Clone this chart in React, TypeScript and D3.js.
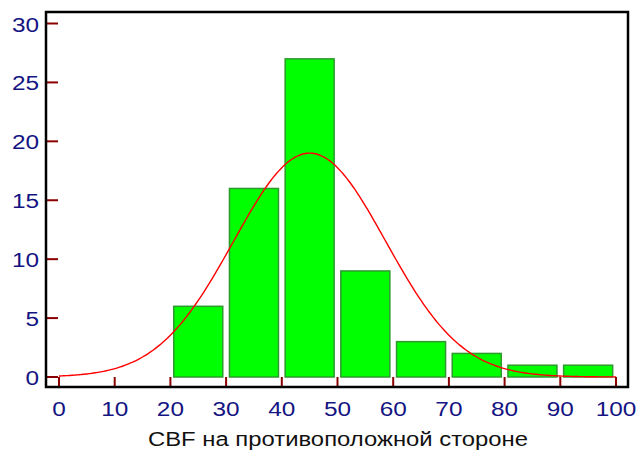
import React from "react";
import * as d3 from "d3";

const binStarts = [20, 30, 40, 50, 60, 70, 80, 90];
const binCounts = [6, 16, 27, 9, 3, 2, 1, 1];
const binWidth = 10;
const xTicks = [0, 10, 20, 30, 40, 50, 60, 70, 80, 90, 100];
const yTicks = [0, 5, 10, 15, 20, 25, 30];
const fitMean = 45;
const fitSd = 13.65;
const xTitle = "CBF на противоположной стороне";

const W = 640;
const H = 453;
const frame = { left: 46, right: 628, top: 12, bottom: 387 };

export default function App() {
  const x = d3.scaleLinear().domain([0, 100]).range([59, 616]);
  const y = d3.scaleLinear().domain([0, 30]).range([377, 23.5]);
  const total = d3.sum(binCounts);
  const curveX = d3.range(0, 100.01, 0.5);
  const curvePts: [number, number][] = curveX.map((v) => [
    v,
    (total * binWidth) / (fitSd * Math.sqrt(2 * Math.PI)) *
      Math.exp(-((v - fitMean) ** 2) / (2 * fitSd * fitSd)),
  ]);
  const line = d3
    .line<[number, number]>()
    .x((d) => x(d[0]))
    .y((d) => y(d[1]))
    .curve(d3.curveMonotoneX);
  const inset = 0.6;
  const font = "'Liberation Sans', Arial, sans-serif";
  const tickColor = "#8b0000";
  const labelColor = "#141482";
  const sx = 1.25;

  return (
    <svg
      width={W}
      height={H}
      style={{ position: "absolute", left: 0, top: 0, background: "#fff" }}
    >
      {binStarts.map((s, i) => (
        <rect
          key={s}
          x={x(s + inset)}
          y={y(binCounts[i])}
          width={x(s + binWidth - inset) - x(s + inset)}
          height={y(0) - y(binCounts[i])}
          fill="#00ff00"
          stroke="#2e9a2e"
          strokeWidth={1.5}
        />
      ))}
      <path d={line(curvePts) || ""} fill="none" stroke="#ff0000" strokeWidth={1.4} />
      {yTicks.map((t) => (
        <g key={"y" + t}>
          <line
            x1={frame.left}
            x2={frame.left + 12}
            y1={y(t)}
            y2={y(t)}
            stroke={tickColor}
            strokeWidth={2}
          />
          <text
            transform={`translate(39,${y(t) + 8}) scale(${sx},1)`}
            textAnchor="end"
            fontFamily={font}
            fontSize={19.5}
            fill={labelColor}
          >
            {t}
          </text>
        </g>
      ))}
      {xTicks.map((t) => (
        <g key={"x" + t}>
          <line
            x1={x(t)}
            x2={x(t)}
            y1={frame.bottom}
            y2={frame.bottom - 10}
            stroke={tickColor}
            strokeWidth={2}
          />
          <text
            transform={`translate(${x(t)},416) scale(${sx},1)`}
            textAnchor="middle"
            fontFamily={font}
            fontSize={19.5}
            fill={labelColor}
          >
            {t}
          </text>
        </g>
      ))}
      <rect
        x={frame.left}
        y={frame.top}
        width={frame.right - frame.left}
        height={frame.bottom - frame.top}
        fill="none"
        stroke="#000"
        strokeWidth={2.5}
      />
      <text
        x={148}
        y={446}
        textLength={380}
        lengthAdjust="spacingAndGlyphs"
        fontFamily={font}
        fontSize={20}
        fill="#111"
      >
        {xTitle}
      </text>
    </svg>
  );
}
